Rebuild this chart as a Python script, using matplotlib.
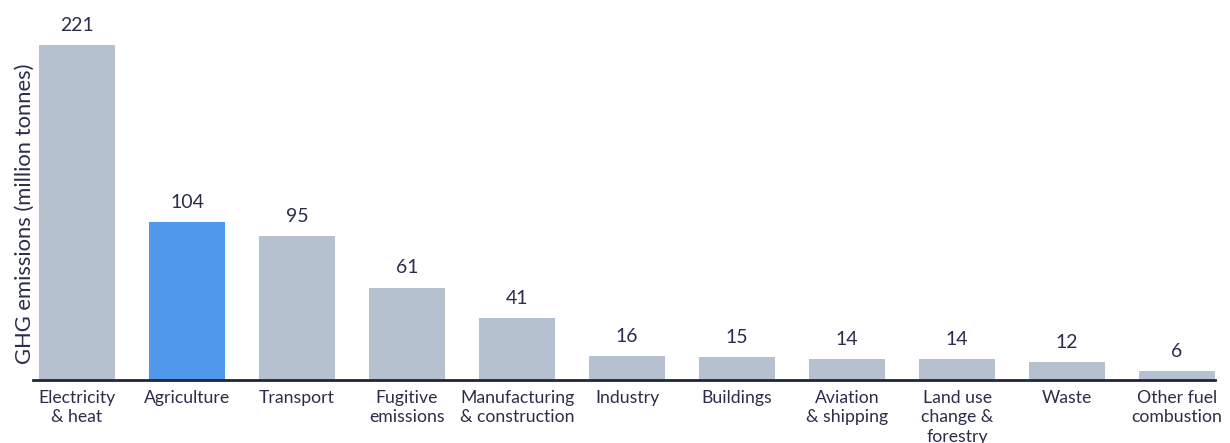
import matplotlib
matplotlib.use("Agg")
import matplotlib.pyplot as plt

categories = ["Electricity\n& heat", "Agriculture", "Transport", "Fugitive\nemissions",
              "Manufacturing\n& construction", "Industry", "Buildings", "Aviation\n& shipping",
              "Land use\nchange &\nforestry", "Waste", "Other fuel\ncombustion"]
values = [221, 104, 95, 61, 41, 16, 15, 14, 14, 12, 6]
highlight = "Agriculture"

grey = "#b6c1d0"
blue = "#4f98eb"
text_col = "#2b2d4a"
line_col = "#1f2444"

plt.rcParams['font.family'] = ['Lato', 'DejaVu Sans']

fig = plt.figure(figsize=(12.3, 4.43), dpi=100)
ax = fig.add_axes([33/1230, 1-380/443, (1215-33)/1230, 370/443])

x = list(range(len(categories)))
colors = [blue if c == highlight else grey for c in categories]
bars = ax.bar(x, values, width=0.69, color=colors, zorder=2)

for xi, v in zip(x, values):
    ax.annotate(str(v), (xi, v), xytext=(0, 8), textcoords="offset points",
                ha="center", va="bottom", fontsize=14, color=text_col)

ax.set_xlim(-0.4, 10.345)
ax.set_ylim(0, 244)
ax.set_xticks(x)
ax.set_xticklabels(categories, fontsize=12.7, color=text_col, linespacing=1.28)
ax.tick_params(axis='x', length=0, pad=7)
ax.set_yticks([])
for s in ["top", "right", "left"]:
    ax.spines[s].set_visible(False)
ax.spines["bottom"].set_color(line_col)
ax.spines["bottom"].set_linewidth(2)
ax.spines["bottom"].set_zorder(3)

fig.text(25/1230, 1-214/443, "GHG emissions (million tonnes)", rotation=90,
         ha="center", va="center", fontsize=15.8, color=text_col)

fig.savefig("out.png", dpi=100)
